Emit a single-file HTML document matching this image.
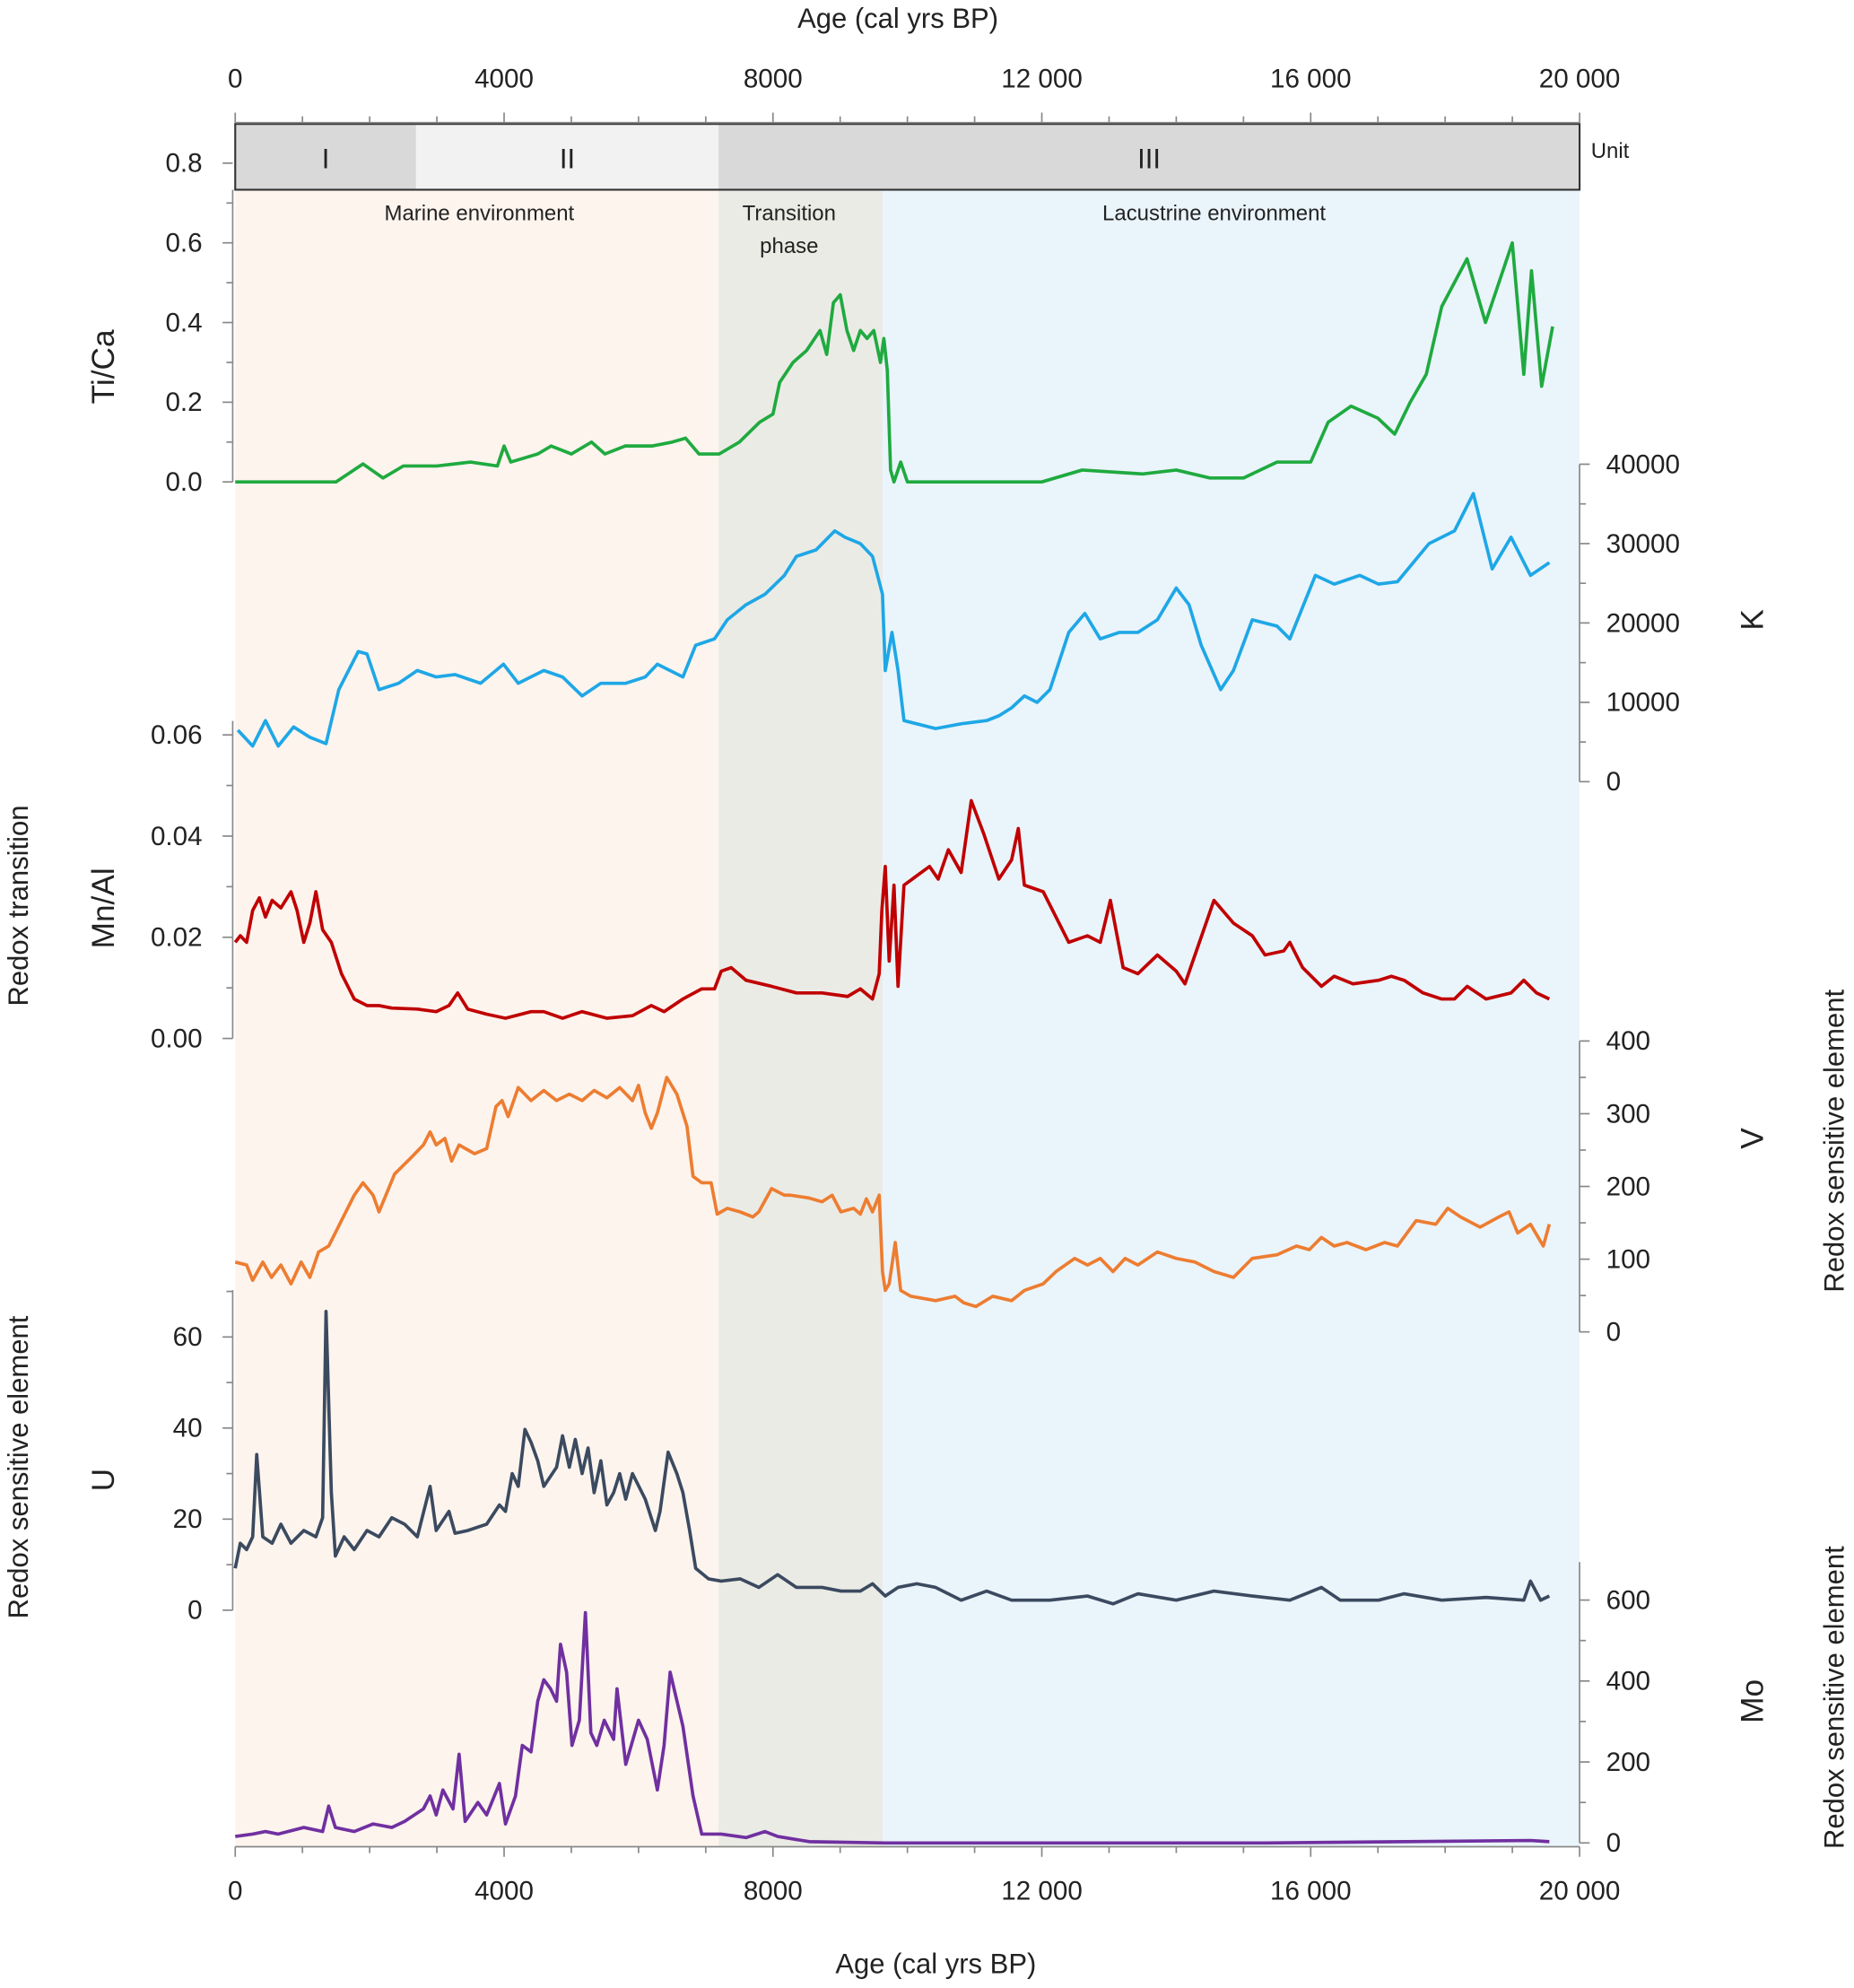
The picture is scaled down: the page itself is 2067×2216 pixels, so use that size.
<!DOCTYPE html>
<html><head><meta charset="utf-8"><style>
html,body{margin:0;padding:0;background:#fff;}
svg{display:block;font-family:"Liberation Sans",sans-serif;}
</style></head><body>
<svg id="chart" width="2067" height="2216" viewBox="0 0 1466 1571.7" preserveAspectRatio="none" xmlns="http://www.w3.org/2000/svg"></svg>
<script>
const tiAges=[0,1500,1900,2200,2500,3000,3500,3900,4000,4100,4500,4700,5000,5300,5500,5800,6200,6500,6700,6900,7200,7500,7800,8000,8100,8300,8500,8700,8800,8900,9000,9100,9200,9300,9400,9500,9600,9650,9700,9750,9800,9900,10000,12000,12600,13500,14000,14500,15000,15500,16000,16260,16600,17000,17250,17480,17720,17950,18325,18600,19000,19170,19285,19435,19600];
const tiVals=[0,0,0.045,0.01,0.04,0.04,0.05,0.04,0.09,0.05,0.07,0.09,0.07,0.1,0.07,0.09,0.09,0.1,0.11,0.07,0.07,0.1,0.15,0.17,0.25,0.3,0.33,0.38,0.32,0.45,0.47,0.38,0.33,0.38,0.36,0.38,0.3,0.36,0.28,0.03,0,0.05,0,0,0.03,0.02,0.03,0.01,0.01,0.05,0.05,0.15,0.19,0.16,0.12,0.2,0.27,0.44,0.56,0.4,0.6,0.27,0.53,0.24,0.39];
const kAges=[40,260,450,640,870,1110,1350,1540,1830,1960,2140,2430,2710,2990,3270,3650,3990,4210,4590,4870,5160,5440,5810,6100,6280,6660,6850,7130,7320,7600,7880,8170,8350,8640,8920,9070,9300,9480,9580,9630,9670,9770,9860,9950,10420,10800,11180,11360,11550,11740,11930,12120,12400,12640,12870,13150,13430,13720,14000,14190,14370,14660,14850,15130,15500,15690,16070,16350,16730,17010,17290,17760,18140,18420,18700,18980,19270,19550];
const kVals=[6500,4500,7700,4500,6900,5600,4800,11600,16400,16100,11600,12400,14000,13200,13500,12400,14800,12400,14000,13200,10800,12400,12400,13200,14800,13200,17200,18000,20400,22300,23600,26000,28400,29200,31600,30800,30000,28400,25200,23600,14000,18800,14000,7700,6700,7300,7700,8300,9300,10800,10000,11600,18800,21200,18000,18800,18800,20400,24400,22300,17200,11600,14000,20400,19600,18000,26000,24900,26000,24900,25200,30000,31600,36300,26800,30800,26000,27600];
const mnAges=[0,75,170,260,360,450,550,680,830,920,1020,1110,1200,1300,1430,1580,1770,1960,2140,2330,2710,2990,3180,3310,3460,3740,4020,4400,4590,4870,5160,5530,5910,6190,6380,6660,6940,7130,7230,7380,7600,7980,8350,8730,9110,9300,9480,9580,9620,9670,9730,9800,9860,9950,10330,10460,10610,10800,10950,11140,11360,11550,11650,11740,12020,12400,12680,12870,13020,13210,13430,13720,14000,14130,14560,14850,15130,15320,15600,15690,15880,16160,16350,16630,17010,17200,17390,17670,17950,18140,18330,18610,18980,19170,19360,19550];
const mnVals=[.019,.0203,.019,.0253,.0278,.024,.0273,.0258,.029,.0253,.019,.0228,.029,.0215,.019,.0128,.0078,.0065,.0065,.006,.0058,.0053,.0065,.009,.0058,.0048,.004,.0053,.0053,.004,.0053,.004,.0045,.0065,.0053,.0078,.0098,.0098,.0133,.014,.0115,.0103,.009,.009,.0083,.0098,.0078,.0128,.0253,.034,.0153,.0303,.0103,.0303,.034,.0315,.0373,.0328,.047,.0403,.0315,.0353,.0415,.0303,.029,.019,.0203,.019,.0273,.014,.0128,.0165,.0133,.0108,.0273,.0228,.0203,.0165,.0173,.019,.014,.0103,.0123,.0108,.0115,.0123,.0115,.009,.0078,.0078,.0103,.0078,.009,.0115,.009,.0078];
const vAges=[0,170,260,410,540,680,830,980,1110,1240,1390,1580,1770,1900,2050,2140,2370,2620,2800,2900,2990,3120,3220,3330,3560,3740,3880,3970,4060,4210,4400,4590,4780,4970,5160,5340,5530,5720,5910,6000,6100,6190,6280,6420,6570,6720,6810,6940,7080,7170,7320,7510,7700,7790,7980,8170,8260,8540,8730,8880,9010,9200,9300,9390,9480,9580,9630,9670,9730,9820,9900,10050,10420,10710,10840,11020,11270,11550,11740,12020,12210,12490,12680,12870,13060,13240,13430,13720,14000,14280,14560,14850,15130,15500,15790,15980,16160,16350,16540,16820,17100,17290,17570,17860,18040,18230,18520,18800,18950,19080,19270,19460,19550];
const vVals=[96,92,71,96,75,92,66,96,75,110,118,153,188,205,188,165,217,240,257,275,257,266,235,257,245,252,310,318,296,336,318,332,318,327,318,332,322,336,318,339,301,280,301,350,327,283,214,205,205,162,170,165,158,165,197,188,188,184,179,188,165,170,162,183,165,188,83,57,66,123,57,49,43,49,40,35,49,43,57,66,83,101,92,101,83,101,92,110,101,96,83,75,101,106,118,113,130,118,123,113,123,118,153,148,170,158,144,158,165,136,148,118,148];
const uAges=[0,75,170,260,320,410,550,680,830,1020,1200,1300,1350,1430,1490,1620,1770,1960,2140,2330,2520,2710,2900,2990,3180,3270,3460,3740,3930,4020,4120,4210,4310,4400,4500,4590,4780,4870,4970,5060,5160,5250,5340,5440,5530,5630,5720,5810,5910,6100,6250,6320,6440,6570,6660,6760,6850,7040,7230,7510,7790,8070,8350,8730,9010,9300,9480,9670,9860,10140,10420,10800,11180,11550,12120,12680,13060,13430,14000,14560,15130,15690,16160,16440,17010,17390,17950,18610,19170,19270,19420,19550];
const uVals=[9.2,14.7,13.3,16.1,34.2,16.1,14.7,18.9,14.7,17.5,16.1,20.3,65.6,25.8,11.9,16.1,13.3,17.5,16.1,20.3,18.9,16.1,27.2,17.5,21.7,16.9,17.5,18.9,23.1,21.7,30,27.2,39.7,36.9,32.8,27.2,31.4,38.3,31.4,37.5,30,35.6,25.8,32.8,23.1,25.8,30,24.4,30,24.4,17.5,21.7,34.7,30,25.8,17.5,9.2,6.9,6.4,6.9,5,7.8,5,5,4.2,4.2,5.8,3.1,5,5.8,5,2.2,4.2,2.2,2.2,3.1,1.4,3.6,2.2,4.2,3.1,2.2,5,2.2,2.2,3.6,2.2,2.8,2.2,6.4,2.2,3.1];
const moAges=[0,260,450,640,1020,1300,1390,1490,1770,2050,2330,2520,2800,2900,2990,3090,3240,3330,3420,3610,3740,3930,4020,4170,4270,4400,4500,4590,4690,4780,4840,4930,5010,5120,5210,5290,5380,5490,5630,5680,5810,6000,6130,6280,6380,6470,6660,6810,6940,7230,7600,7880,8070,8540,9670,15320,19270,19550];
const moVals=[16,22,28,22,38,28,91,38,28,47,38,53,84,116,69,131,84,219,53,100,69,147,47,116,241,225,350,403,381,350,491,422,241,303,569,272,241,303,256,381,194,303,256,131,241,422,288,116,22,22,13,28,16,3,0,0,6,3];
const ageTicks=[0,4000,8000,12000,16000,20000];
const ageTickLabels=["0","4000","8000","12 000","16 000","20 000"];
const units=["I","II","III"];
const unitBounds=[0,2690,7190,20000];
const envNames=["Marine environment","Transition phase","Lacustrine environment"];
const envBounds=[0,7190,9630,20000];

const svg=document.getElementById('chart');
const NS='http://www.w3.org/2000/svg';
function mk(tag,attrs,parent,txt){const e=document.createElementNS(NS,tag);for(const k in attrs)e.setAttribute(k,attrs[k]);if(txt!==undefined)e.textContent=txt;(parent||svg).appendChild(e);return e;}
const X=a=>186+a*1063/20000;
function lin(d0,d1,p0,p1){return v=>p0+(v-d0)*(p1-p0)/(d1-d0);}
const yTi=lin(0,0.8,381,129),yK=lin(0,40000,618,367),yMn=lin(0,0.06,821,581),yV=lin(0,400,1053,823),yU=lin(0,60,1273,1057),yMo=lin(0,600,1457,1265);

// environment shading
const envCols=["#fdf4ee","#ebebe6","#eaf4fb"];
for(let i=0;i<3;i++){
 const r=mk('rect',{x:X(envBounds[i]),y:150,width:X(envBounds[i+1])-X(envBounds[i]),height:1310,fill:envCols[i]});
 
 
}
const envLblX=[379,624,960];
const e1=mk('text',{x:envLblX[0],y:174,'font-size':17,'text-anchor':'middle',fill:'#222'},svg,envNames[0]);

const e2=mk('text',{x:envLblX[1],y:174,'font-size':17,'text-anchor':'middle',fill:'#222'},svg,'Transition');

const e2b=mk('text',{x:envLblX[1],y:200,'font-size':17,'text-anchor':'middle',fill:'#222'},svg,'phase');

const e3=mk('text',{x:envLblX[2],y:174,'font-size':17,'text-anchor':'middle',fill:'#222'},svg,envNames[2]);


// unit band
const unitCols=["#d9d9d9","#f2f2f2","#d9d9d9"];
for(let i=0;i<3;i++){
 const x0=X(unitBounds[i]),x1=X(unitBounds[i+1]);
 const r=mk('rect',{x:x0,y:98,width:x1-x0,height:52,fill:unitCols[i]});
 
 
 const t=mk('text',{x:(x0+x1)/2,y:133,'font-size':22,'text-anchor':'middle',fill:'#222'},svg,units[i]);
 
 
}
mk('rect',{x:186,y:98,width:1063,height:52,fill:'none',stroke:'#333','stroke-width':1.5});
const ut=mk('text',{x:1258,y:125,'font-size':17,fill:'#222'},svg,'Unit');


// age axes
function ageAxis(y,dir,labY,name){
 const g=mk('g',{});
 
 
 mk('line',{x1:186,x2:1249,y1:y,y2:y,stroke:'#888','stroke-width':1.2},g);
 for(let a=0;a<=20000;a+=1000){const maj=a%4000===0;mk('line',{x1:X(a),x2:X(a),y1:y,y2:y+dir*(maj?8:5),stroke:'#888','stroke-width':1.2},g);}
 ageTicks.forEach((a,i)=>mk('text',{x:X(a),y:labY,'font-size':21,'text-anchor':'middle',fill:'#222'},g,ageTickLabels[i]));
}
ageAxis(97,-1,69,'top-age-axis');
ageAxis(1460,1,1502,'bottom-age-axis');
const tt=mk('text',{x:710,y:22,'font-size':22,'text-anchor':'middle',fill:'#222'},svg,'Age (cal yrs BP)');

const bt=mk('text',{x:740,y:1560,'font-size':22,'text-anchor':'middle',fill:'#222'},svg,'Age (cal yrs BP)');


// value axes
function vAxis(side,scale,ticks,labels,minor,yTop,yBot,name){
 const g=mk('g',{});
 
 
 const x=side==='L'?184:1249;const d=side==='L'?-1:1;
 mk('line',{x1:x,x2:x,y1:yTop,y2:yBot,stroke:'#888','stroke-width':1.2},g);
 minor.forEach(v=>mk('line',{x1:x,x2:x+d*5,y1:scale(v),y2:scale(v),stroke:'#888','stroke-width':1.2},g));
 ticks.forEach((v,i)=>{mk('line',{x1:x,x2:x+d*8,y1:scale(v),y2:scale(v),stroke:'#888','stroke-width':1.2},g);
  mk('text',{x:side==='L'?160:1270,y:scale(v)+7,'font-size':21,'text-anchor':side==='L'?'end':'start',fill:'#222'},g,labels[i]);});
}
vAxis('L',yTi,[0,0.2,0.4,0.6,0.8],["0.0","0.2","0.4","0.6","0.8"],[0.1,0.3,0.5,0.7],150,381,'tica-axis');
vAxis('R',yK,[0,10000,20000,30000,40000],["0","10000","20000","30000","40000"],[5000,15000,25000,35000],367,618,'k-axis');
vAxis('L',yMn,[0,0.02,0.04,0.06],["0.00","0.02","0.04","0.06"],[0.01,0.03,0.05],570,821,'mnal-axis');
vAxis('R',yV,[0,100,200,300,400],["0","100","200","300","400"],[50,150,250,350],823,1053,'v-axis');
vAxis('L',yU,[0,20,40,60],["0","20","40","60"],[10,30,50,70],1020,1273,'u-axis');
vAxis('R',yMo,[0,200,400,600],["0","200","400","600"],[100,300,500],1235,1457,'mo-axis');

function rot(x,y,t,size,name){const e=mk('text',{x:x,y:y,'font-size':size,'text-anchor':'middle',fill:'#222',transform:`rotate(-90 ${x} ${y})`},svg,t);
 }
rot(90,290,'Ti/Ca',25,'tica-title');rot(90,718,'Mn/Al',25,'mnal-title');rot(90,1170,'U',25,'u-title');
rot(22,716,'Redox transition',22,'redox-transition-title');rot(22,1160,'Redox sensitive element',22,'left-redox-title');
rot(1394,490,'K',25,'k-title');rot(1394,900,'V',25,'v-title');rot(1394,1345,'Mo',25,'mo-title');
rot(1458,902,'Redox sensitive element',22,'right-redox-title-v');rot(1458,1342,'Redox sensitive element',22,'right-redox-title-mo');

function series(ages,vals,scale,col,name){
 const d=ages.map((a,i)=>(i?'L':'M')+X(a).toFixed(1)+' '+scale(vals[i]).toFixed(1)).join(' ');
 const p=mk('path',{d:d,fill:'none',stroke:col,'stroke-width':2.6,'stroke-linejoin':'round'});
 
 
}
series(tiAges,tiVals,yTi,'#1faa3f','tica-line');
series(kAges,kVals,yK,'#1ea7e6','k-line');
series(mnAges,mnVals,yMn,'#c00000','mnal-line');
series(vAges,vVals,yV,'#ed7d31','v-line');
series(uAges,uVals,yU,'#3b4a5f','u-line');
series(moAges,moVals,yMo,'#7030a0','mo-line');
</script>
</body></html>
